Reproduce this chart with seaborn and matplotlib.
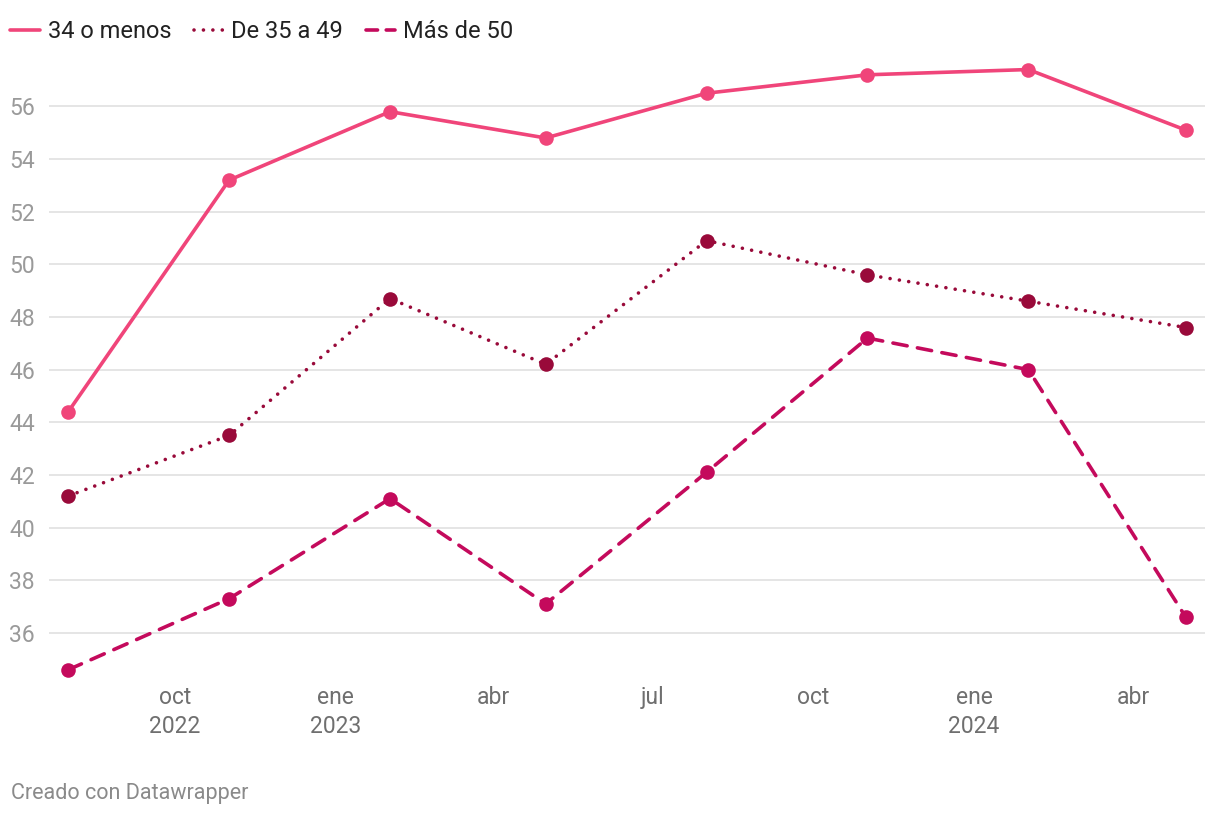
import matplotlib
matplotlib.use("Agg")
import matplotlib.pyplot as plt
import seaborn as sns
import pandas as pd
from matplotlib.lines import Line2D

dates = ["2022-08-01", "2022-11-01", "2023-02-01", "2023-05-01",
         "2023-08-01", "2023-11-01", "2024-02-01", "2024-05-01"]
s_34 = [44.4, 53.2, 55.8, 54.8, 56.5, 57.2, 57.4, 55.1]
s_35_49 = [41.2, 43.5, 48.7, 46.2, 50.9, 49.6, 48.6, 47.6]
s_50 = [34.6, 37.3, 41.1, 37.1, 42.1, 47.2, 46.0, 36.6]
series_names = ["34 o menos", "De 35 a 49", "Más de 50"]
tick_dates = ["2022-10-01", "2023-01-01", "2023-04-01", "2023-07-01",
              "2023-10-01", "2024-01-01", "2024-04-01"]
tick_labels = ["oct\n2022", "ene\n2023", "abr", "jul", "oct", "ene\n2024", "abr"]
y_ticks = [36, 38, 40, 42, 44, 46, 48, 50, 52, 54, 56]

sns.set_theme(style="white")
plt.rcParams['font.family'] = ['Roboto', 'DejaVu Sans']

colors = ["#f0457a", "#990a3a", "#c40a5c"]
styles = ["solid", "dotted", "dashed"]
LW = 2.6
DOT = (0, (0.01, 2.6))
DASH = (0, (4.0, 2.9))

fig = plt.figure(figsize=(12.2, 8.16), dpi=100)
ax = fig.add_axes([49/1220, 1 - 685/816, 1156/1220, 626/816])

dt = pd.to_datetime(dates)
all_vals = [s_34, s_35_49, s_50]
for name, vals, c, ls in zip(series_names, all_vals, colors, styles):
    sns.lineplot(x=dt, y=vals, ax=ax, color=c, linewidth=LW, marker="o",
                 markersize=10.5, markeredgewidth=0, legend=False)
    line = ax.lines[-1]
    if ls == "dotted":
        line.set_linestyle(DOT)
        line.set_dash_capstyle("round")
    elif ls == "dashed":
        line.set_linestyle(DASH)
        line.set_dash_capstyle("round")
    else:
        line.set_solid_capstyle("round")

ax.set_xlim(pd.Timestamp("2022-07-21"), pd.Timestamp("2024-05-12"))
ax.set_ylim(34.02, 57.8)
ax.set_yticks(y_ticks)
ax.set_yticklabels([str(v) for v in y_ticks])
ax.set_xticks(pd.to_datetime(tick_dates))
ax.set_xticklabels(tick_labels)
ax.grid(axis="y", color="#e3e3e3", linewidth=1.3)
ax.set_axisbelow(True)
for s in ax.spines.values():
    s.set_visible(False)
ax.tick_params(axis="y", length=0, pad=10, labelsize=16.5, labelcolor="#9a9a9a")
ax.tick_params(axis="x", length=0, pad=1, labelsize=16.5, labelcolor="#6f6f6f")
for t in ax.get_xticklabels():
    t.set_linespacing(1.3)
ax.set_xlabel("")
ax.set_ylabel("")

handles = []
for name, c, ls in zip(series_names, colors, styles):
    if ls == "dotted":
        h = Line2D([], [], color=c, linewidth=LW, linestyle=DOT, dash_capstyle="round")
    elif ls == "dashed":
        h = Line2D([], [], color=c, linewidth=LW, linestyle=(0, (3.2, 2.4)),
                   dash_capstyle="round")
    else:
        h = Line2D([], [], color=c, linewidth=LW, solid_capstyle="round")
    handles.append(h)
fig.legend(handles, series_names, loc="upper left",
           bbox_to_anchor=(10/1220, 1 - 20/816),
           ncol=3, frameon=False, fontsize=17, handlelength=1.25, handletextpad=0.35,
           columnspacing=0.95, borderaxespad=0, borderpad=0, labelcolor="#222222")

fig.text(11/1220, 1 - 793/816, "Creado con Datawrapper", fontsize=15.5,
         color="#8a8a8a", va="center", ha="left")

fig.savefig("out.png", dpi=100)
